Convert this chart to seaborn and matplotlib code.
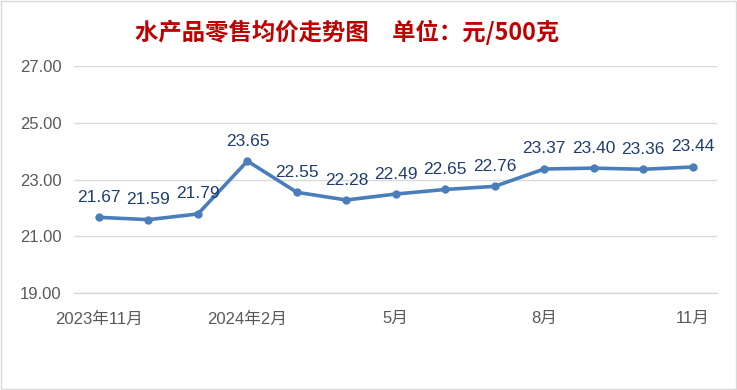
import matplotlib
matplotlib.use("Agg")
import matplotlib.pyplot as plt
import seaborn as sns
import pandas as pd
import numpy as np
from matplotlib.patches import Rectangle

months = ["2023年11月", "12月", "2024年1月", "2024年2月", "3月", "4月", "5月",
          "6月", "7月", "8月", "9月", "10月", "11月"]
prices = [21.67, 21.59, 21.79, 23.65, 22.55, 22.28, 22.49, 22.65, 22.76,
          23.37, 23.40, 23.36, 23.44]
shown_labels = ["2023年11月", "2024年2月", "5月", "8月", "11月"]
shown_idx = [0, 3, 6, 9, 12]
y_ticks = [19.0, 21.0, 23.0, 25.0, 27.0]

sns.set_theme(style="white")
plt.rcParams['font.family'] = ['Liberation Sans', 'Noto Sans CJK SC', 'DejaVu Sans']

df = pd.DataFrame({"idx": np.arange(len(months)), "month": months, "price": prices})

fig = plt.figure(figsize=(7.37, 3.90), dpi=100)
ax = fig.add_axes([0.1008, 0.2479, 0.9733 - 0.1008, 0.8315 - 0.2479])

line_color = "#4A7EBB"
sns.lineplot(data=df, x="idx", y="price", ax=ax, color=line_color, linewidth=2.6,
             marker="o", markersize=6, markeredgewidth=0, markerfacecolor=line_color)

for i, v in zip(df["idx"], df["price"]):
    ax.annotate(f"{v:.2f}", (i, v), xytext=(0, 9), textcoords="offset points",
                ha="center", va="bottom", fontsize=12.5, color="#1F3D6E")

ax.set_ylim(19, 27)
ax.set_yticks(y_ticks)
ax.set_yticklabels([f"{t:.2f}" for t in y_ticks])
ax.set_xlim(-0.5, len(months) - 0.5)
ax.set_xticks(shown_idx)
ax.set_xticklabels(shown_labels)
ax.set_xticks(np.arange(-0.5, len(months), 1.0), minor=True)
ax.tick_params(axis="x", which="major", length=0, pad=13, labelsize=12, labelcolor="#595959")
ax.tick_params(axis="x", which="minor", length=5, direction="in", color="#D9D9D9", width=1)
ax.tick_params(axis="y", length=0, pad=9, labelsize=12, labelcolor="#595959")
ax.set_xlabel("")
ax.set_ylabel("")

ax.grid(axis="y", color="#D9D9D9", linewidth=1)
ax.grid(axis="x", visible=False)
for s in ["left", "right", "top"]:
    ax.spines[s].set_visible(False)
ax.spines["bottom"].set_color("#D9D9D9")
ax.spines["bottom"].set_linewidth(1)
ax.set_axisbelow(True)

fig.text(0.4715, 0.918, "水产品零售均价走势图　单位：元/500克", ha="center", va="center",
         fontsize=16.8, fontweight="bold", color="#C00000",
         family=['Noto Sans CJK SC', 'DejaVu Sans'])

fig.patches.append(Rectangle((0.0007, 0.0013), 0.9986, 0.9974, transform=fig.transFigure,
                             fill=False, edgecolor="#D9D9D9", linewidth=1))

fig.savefig("out.png", dpi=100, facecolor="white")
